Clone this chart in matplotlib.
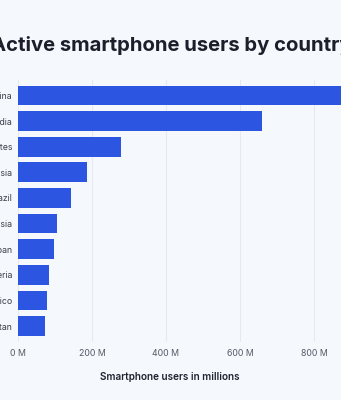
import matplotlib.pyplot as plt

# --- Data (millions of active smartphone users) ---
countries = ["China", "India", "United States", "Russia", "Brazil",
             "Indonesia", "Japan", "Nigeria", "Mexico", "Pakistan"]
users = [974, 660, 278, 187, 143, 106, 97, 83, 78, 72]
tick_vals = [0, 200, 400, 600, 800]
tick_labels = ["0 M", "200 M", "400 M", "600 M", "800 M"]

bg = "#F5F8FC"
bar_color = "#2C55E2"

plt.rcParams["font.family"] = ["Inter", "DejaVu Sans"]

W, H = 341, 400
fig = plt.figure(figsize=(W / 100, H / 100), dpi=100, facecolor=bg)

# axes placed in pixel terms; the chart is cropped on the right
x0, x1 = 18, 18 + 370          # 0 M .. 1000 M
y_top, y_bot = 80, 342
ax = fig.add_axes([x0 / W, 1 - y_bot / H, (x1 - x0) / W, (y_bot - y_top) / H])
ax.set_facecolor(bg)

pos = list(range(len(countries)))
ax.barh(pos, users, height=0.77, color=bar_color, zorder=3)
ax.set_ylim(len(countries) - 0.5 + 0.12, -0.5 - 0.1)
ax.set_xlim(0, 1000)

ax.set_xticks(tick_vals)
ax.set_xticklabels(tick_labels, fontsize=6.3, color="#555a66")
ax.set_yticks(pos)
ax.set_yticklabels(countries, fontsize=6.3, color="#3a3f4a")
ax.tick_params(length=0, pad=4)
ax.tick_params(axis="x", pad=5)

ax.grid(axis="x", color="#E6EAF0", linewidth=0.8, zorder=0)
for s in ax.spines.values():
    s.set_visible(False)

ax.set_xlabel("Smartphone users in millions", fontsize=7.2, fontweight="semibold",
              color="#1f2330")
ax.xaxis.set_label_coords((170 - x0) / (x1 - x0), -0.115)

fig.text(-9 / W, 1 - 51 / H, "Active smartphone users by country",
         fontsize=14.6, fontweight="bold", color="#1c1f2b", ha="left", va="baseline")

fig.savefig("out.png", dpi=100, facecolor=bg)
